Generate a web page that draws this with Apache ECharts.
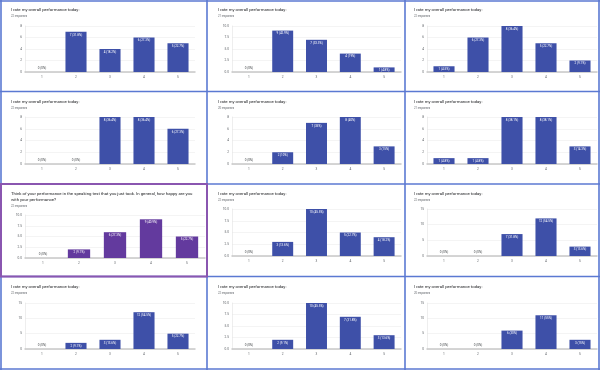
<!DOCTYPE html>
<html><head><meta charset="utf-8">
<script src="https://cdn.jsdelivr.net/npm/echarts@6/dist/echarts.min.js"></script>
<style>html,body{margin:0;padding:0;background:#fff}#c{width:600px;height:370px}</style>
</head><body><div id="c"></div>
<script>
// ---------- DATA ----------
const categories = ['1', '2', '3', '4', '5'];
const titleRate = 'I rate my overall performance today:';
const titleHappy = 'Think of your performance in the speaking test that you just took. In general, how happy are you\nwith your performance?';

const counts1  = [0, 7, 4, 6, 5];
const counts2  = [0, 9, 7, 4, 1];
const counts3  = [1, 6, 8, 5, 2];
const counts4  = [0, 0, 8, 8, 6];
const counts5  = [0, 2, 7, 8, 3];
const counts6  = [1, 1, 8, 8, 3];
const counts7  = [0, 2, 6, 9, 5];
const counts8  = [0, 3, 10, 5, 4];
const counts9  = [0, 0, 7, 12, 3];
const counts10 = [0, 2, 3, 12, 5];
const counts11 = [0, 2, 10, 7, 3];
const counts12 = [0, 0, 6, 11, 3];

const ticksA = ['0', '2', '4', '6', '8'];
const ticksB = ['0.0', '2.5', '5.0', '7.5', '10.0'];
const ticksC = ['0', '5', '10', '15'];

const panelCounts = [counts1, counts2, counts3, counts4, counts5, counts6,
                     counts7, counts8, counts9, counts10, counts11, counts12];
const panelTicks  = [ticksA, ticksB, ticksA, ticksA, ticksA, ticksA,
                     ticksB, ticksB, ticksC, ticksC, ticksB, ticksC];
const panelTitles = [titleRate, titleRate, titleRate, titleRate, titleRate, titleRate,
                     titleHappy, titleRate, titleRate, titleRate, titleRate, titleRate];

// ---------- LAYOUT ----------
const colPlot = [[25, 195], [232, 401], [427, 597]];
const rowPlot = [[26, 72], [117, 164], [209, 256], [303, 349]];
const colTitleX = [11, 218, 414];
const rowTitleY = [10, 102, 194, 287];
const BLUE = '#3e50a8', PURPLE = '#633a9e';

const W = 600, H = 370;
const option = {
  animation: false,
  backgroundColor: '#fff',
  title: [], grid: [], xAxis: [], yAxis: [], series: [], graphic: []
};

function pctText(v, total) {
  const p = Math.round(v / total * 1000) / 10;
  return (Number.isInteger(p) ? p.toFixed(0) : p.toFixed(1)) + '%';
}

for (let i = 0; i < 12; i++) {
  const r = Math.floor(i / 3), c = i % 3;
  const special = (i === 6);
  let [x0, x1] = colPlot[c];
  let [y0, y1] = rowPlot[r];
  if (special) { x1 = 205; y0 = 215; y1 = 258; }
  const counts = panelCounts[i];
  const total = counts.reduce((a, b) => a + b, 0);
  const ticks = panelTicks[i];
  const color = special ? PURPLE : BLUE;

  option.title.push({
    text: panelTitles[i],
    subtext: total + ' responses',
    left: colTitleX[c],
    top: rowTitleY[r] - 2.8,
    itemGap: special ? 1.5 : 1,
    padding: 0,
    textStyle: { fontSize: 4.3, fontWeight: 'normal', color: '#202124', lineHeight: 6, fontFamily: 'Roboto' },
    subtextStyle: { fontSize: 2.7, color: '#5f6368', lineHeight: 4, fontFamily: 'Roboto' }
  });
  option.grid.push({ left: x0, width: x1 - x0, top: y0, height: y1 - y0, containLabel: false });
  option.xAxis.push({
    type: 'category', gridIndex: i, data: categories,
    axisTick: { show: false },
    axisLine: { lineStyle: { color: '#c8c8c8', width: 1.5 } },
    axisLabel: { fontSize: 3.2, color: '#5f6368', margin: 4, fontFamily: 'Roboto' }
  });
  option.yAxis.push({
    type: 'value', gridIndex: i, min: 0,
    max: parseFloat(ticks[ticks.length - 1]),
    interval: parseFloat(ticks[1]),
    axisLine: { show: true, lineStyle: { color: '#e3e3e3', width: 0.6 } },
    axisTick: { show: false },
    splitLine: { lineStyle: { color: '#ececec', width: 0.6 } },
    axisLabel: { fontSize: 3.2, color: '#5f6368', margin: 3, fontFamily: 'Roboto',
                 formatter: (v, idx) => ticks[idx] }
  });
  option.series.push({
    type: 'bar', xAxisIndex: i, yAxisIndex: i, barWidth: '62%',
    itemStyle: { color: color },
    data: counts.map(v => ({
      value: v,
      label: {
        show: true,
        position: v === 0 ? 'top' : 'insideTop',
        distance: v === 0 ? 2 : 1.5,
        fontSize: 3, fontFamily: 'Roboto',
        color: v === 0 ? '#3c4043' : '#ffffff',
        formatter: v + ' (' + pctText(v, total) + ')'
      }
    }))
  });
}

// panel separators (screenshot collage frame)
const sepBlue = '#5b79d2', sepPurple = '#8a56b0';
const vx = [1, 207, 405, 599];
const hy = [1, 91.5, 184, 276.5, 369];
vx.forEach(x => option.graphic.push({ type: 'line', shape: { x1: x, y1: 0, x2: x, y2: H }, style: { stroke: sepBlue, lineWidth: 1.6 } }));
hy.forEach(y => option.graphic.push({ type: 'line', shape: { x1: 0, y1: y, x2: W, y2: y }, style: { stroke: sepBlue, lineWidth: 1.6 } }));
option.graphic.push({ type: 'rect', shape: { x: 1, y: 184, width: 206, height: 92.5 }, style: { fill: 'none', stroke: sepPurple, lineWidth: 2 } });

const chart = echarts.init(document.getElementById('c'), null, { renderer: 'canvas' });
chart.setOption(option);
</script>
</body></html>
